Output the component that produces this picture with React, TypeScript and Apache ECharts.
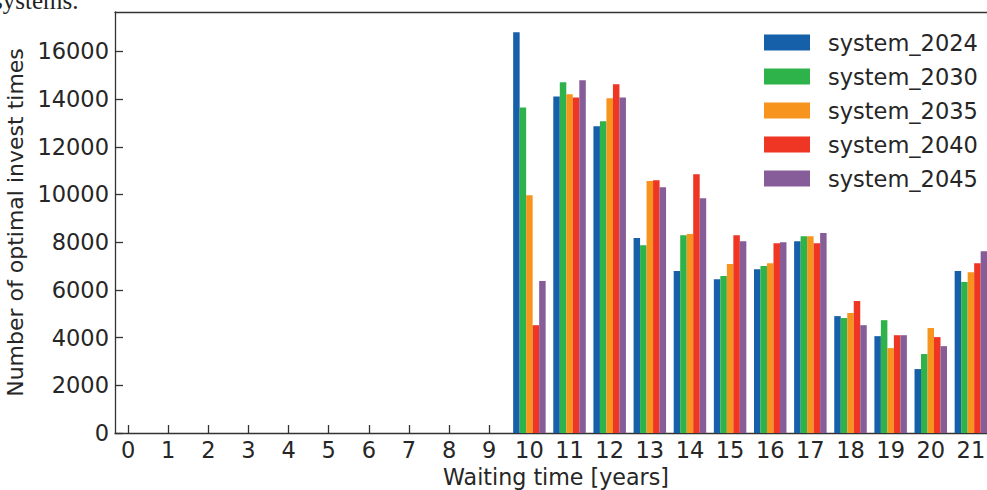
import React, { useEffect, useRef } from "react";
import * as echarts from "echarts";

// Waiting times (years) that have bars; axis runs 0..21
const waitYears = [10, 11, 12, 13, 14, 15, 16, 17, 18, 19, 20, 21];

const system2024 = [16800, 14110, 12860, 8170, 6790, 6450, 6870, 8040, 4900, 4060, 2680, 6790];
const system2030 = [13650, 14700, 13070, 7870, 8290, 6580, 7000, 8250, 4820, 4730, 3310, 6330];
const system2035 = [9970, 14200, 14030, 10560, 8340, 7080, 7120, 8250, 5030, 3560, 4400, 6740];
const system2040 = [4520, 14070, 14620, 10600, 10850, 8290, 7960, 7960, 5530, 4100, 4020, 7120];
const system2045 = [6370, 14790, 14070, 10300, 9840, 8040, 8000, 8380, 4520, 4100, 3640, 7620];

const seriesNames = ["system_2024", "system_2030", "system_2035", "system_2040", "system_2045"];
const seriesValues = [system2024, system2030, system2035, system2040, system2045];
const seriesColors = ["#1660A9", "#2EB34A", "#F7941E", "#EF3524", "#865D99"];

const xTitle = "Waiting time [years]";
const yTitle = "Number of optimal invest times";
const caption = "systems.";

const FONT = "DejaVu Sans";
const TEXT = "#262626";
const AXIS = "#333333";

export default function App() {
  const ref = useRef<HTMLDivElement>(null);
  useEffect(() => {
    if (!ref.current) return;
    const chart = echarts.init(ref.current, undefined, { renderer: "svg" });
    const xMin = -0.325;
    const xMax = 21.65;
    chart.setOption({
      animation: false,
      backgroundColor: "#ffffff",
      textStyle: { fontFamily: FONT, color: TEXT },
      grid: { left: 115, top: 12, right: -10, bottom: 57, containLabel: false, outerBoundsMode: "none" },
      legend: {
        orient: "vertical",
        left: 764,
        top: 31,
        padding: 0,
        itemWidth: 46,
        itemHeight: 16,
        itemGap: 11,
        icon: "rect",
        textStyle: { fontFamily: FONT, fontSize: 22.5, color: TEXT, lineHeight: 22, padding: [0, 0, 0, 13] },
        data: seriesNames,
      },
      graphic: [
        {
          type: "text",
          x: -7,
          y: 13,
          style: {
            text: caption,
            font: '25px "Liberation Serif"',
            fill: "#222222",
            verticalAlign: "bottom",
          },
        },
      ],
      xAxis: [
        {
          type: "value",
          min: xMin,
          max: xMax,
          minInterval: 1,
          maxInterval: 1,
          splitLine: { show: false },
          axisLine: { show: true, onZero: false, lineStyle: { color: AXIS, width: 1.3 } },
          axisTick: { show: true, inside: true, length: 8, lineStyle: { color: AXIS, width: 1.3 } },
          axisLabel: {
            show: true,
            showMinLabel: false,
            showMaxLabel: false,
            margin: 5,
            fontFamily: FONT,
            fontSize: 22.5,
            color: TEXT,
            formatter: (v: number) => String(v),
          },
          name: xTitle,
          nameLocation: "middle",
          nameGap: 28,
          nameTextStyle: { fontFamily: FONT, fontSize: 22.2, color: TEXT, verticalAlign: "top" },
        },
        {
          type: "value",
          position: "top",
          min: xMin,
          max: xMax,
          splitLine: { show: false },
          axisLine: { show: true, onZero: false, lineStyle: { color: AXIS, width: 1.3 } },
          axisTick: { show: false },
          axisLabel: { show: false },
        },
      ],
      yAxis: {
        type: "value",
        min: 0,
        max: 17650,
        interval: 2000,
        splitLine: { show: false },
        axisLine: { show: true, onZero: false, lineStyle: { color: AXIS, width: 1.3 } },
        axisTick: { show: true, inside: true, length: 8, lineStyle: { color: AXIS, width: 1.3 } },
        axisLabel: {
          showMaxLabel: false,
          margin: 6,
          fontFamily: FONT,
          fontSize: 22.5,
          color: TEXT,
          formatter: (v: number) => String(v),
        },
        name: yTitle,
        nameLocation: "middle",
        nameGap: 82,
        nameRotate: 90,
        nameTextStyle: { fontFamily: FONT, fontSize: 22, color: TEXT },
      },
      series: seriesNames.map((name, i) => ({
        name,
        type: "bar",
        xAxisIndex: 0,
        barWidth: 6.5,
        barGap: "0%",
        itemStyle: { color: seriesColors[i] },
        data: waitYears.map((yr, j) => [yr, seriesValues[i][j]]),
      })),
    });
    return () => chart.dispose();
  }, []);
  return (
    <div
      style={{
        position: "absolute",
        left: 0,
        top: 0,
        width: 987,
        height: 490,
        overflow: "hidden",
        background: "#ffffff",
      }}
    >
      <div ref={ref} style={{ width: 987, height: 490 }} />
    </div>
  );
}
